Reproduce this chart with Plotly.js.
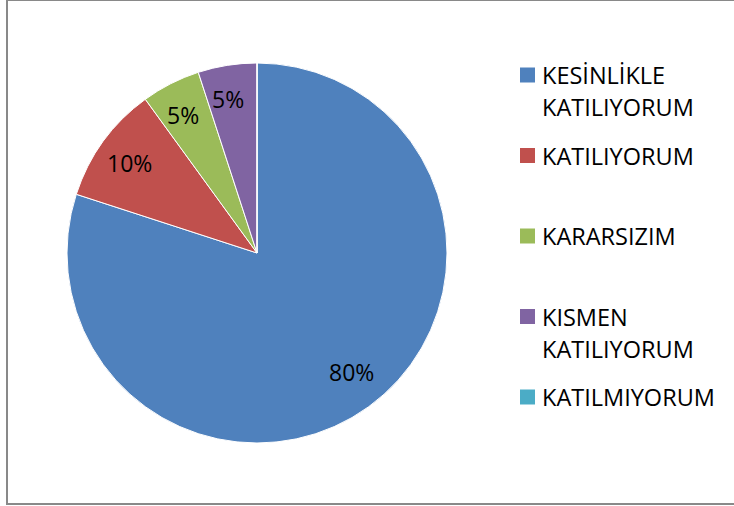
<!DOCTYPE html>
<html>
<head>
<meta charset="utf-8">
<script src="https://cdn.plot.ly/plotly-3.0.1.min.js"></script>
<style>
  html, body { margin: 0; padding: 0; background: #ffffff; }
  #chart { width: 734px; height: 506px; }
</style>
</head>
<body>
<div id="chart"></div>
<script>
// ---- data ----
const categories = ['KESİNLİKLE KATILIYORUM', 'KATILIYORUM', 'KARARSIZIM', 'KISMEN KATILIYORUM', 'KATILMIYORUM'];
const legendLines = [['KESİNLİKLE', 'KATILIYORUM'], ['KATILIYORUM'], ['KARARSIZIM'], ['KISMEN', 'KATILIYORUM'], ['KATILMIYORUM']];
const values = [80, 10, 5, 5, 0];
const colors = ['#4F81BD', '#C0504D', '#9BBB59', '#8064A2', '#4BACC6'];

// ---- layout constants (pixels) ----
const W = 734, H = 506;
const CX = 257, CY = 253, R = 190;
const FONT = 'Open Sans, Liberation Sans, sans-serif';
const px = x => x / W;
const py = y => 1 - y / H;

const total = values.reduce((a, b) => a + b, 0);

const trace = {
  type: 'pie',
  labels: categories,
  values: values,
  sort: false,
  direction: 'clockwise',
  rotation: 0,
  textinfo: 'none',
  hoverinfo: 'label+percent',
  marker: { colors: colors, line: { color: '#ffffff', width: 1 } },
  domain: { x: [px(CX - R), px(CX + R)], y: [py(CY + R), py(CY - R)] },
  showlegend: false
};

const annotations = [];
const shapes = [];

// percentage labels on the bisector of each slice
let cum = 0;
values.forEach((v, i) => {
  const start = cum;
  cum += v;
  if (v <= 0) return;
  const mid = (start + v / 2) / total * 2 * Math.PI - 0.03;
  const d = 0.81 * R;
  const x = CX + d * Math.sin(mid);
  const y = CY - d * Math.cos(mid) - 3;
  annotations.push({
    x: px(x), y: py(y), xref: 'paper', yref: 'paper',
    xanchor: 'center', yanchor: 'middle', showarrow: false,
    text: Math.round(v / total * 100) + '%',
    font: { family: FONT, size: 23, color: '#000000' }
  });
});

// legend built from categories/colors
const LEG_X = 520, LEG_Y0 = 75, LEG_STEP = 80.5, LINE_H = 32, SQ = 15;
legendLines.forEach((lines, i) => {
  const yc = LEG_Y0 + i * LEG_STEP;
  shapes.push({
    type: 'rect', xref: 'paper', yref: 'paper',
    x0: px(LEG_X), x1: px(LEG_X + SQ), y0: py(yc + SQ / 2), y1: py(yc - SQ / 2),
    fillcolor: colors[i], line: { width: 0 }
  });
  lines.forEach((t, j) => {
    annotations.push({
      x: px(LEG_X + 20), y: py(yc + j * LINE_H), xref: 'paper', yref: 'paper',
      xanchor: 'left', yanchor: 'middle', showarrow: false,
      text: t,
      font: { family: FONT, size: 23.5, color: '#000000' }
    });
  });
});

// chart frame
const FRAME = '#898989';
shapes.push({ type: 'line', xref: 'paper', yref: 'paper', x0: px(7), x1: px(7), y0: py(0), y1: py(505), line: { color: FRAME, width: 2 } });
shapes.push({ type: 'line', xref: 'paper', yref: 'paper', x0: px(6), x1: px(734), y0: py(0.5), y1: py(0.5), line: { color: FRAME, width: 1 } });
shapes.push({ type: 'line', xref: 'paper', yref: 'paper', x0: px(6), x1: px(734), y0: py(504), y1: py(504), line: { color: FRAME, width: 2 } });

const layout = {
  width: W, height: H,
  margin: { l: 0, r: 0, t: 0, b: 0 },
  paper_bgcolor: '#ffffff',
  showlegend: false,
  annotations: annotations,
  shapes: shapes,
  font: { family: FONT }
};

Plotly.newPlot('chart', [trace], layout, { displayModeBar: false, staticPlot: true });
</script>
</body>
</html>
